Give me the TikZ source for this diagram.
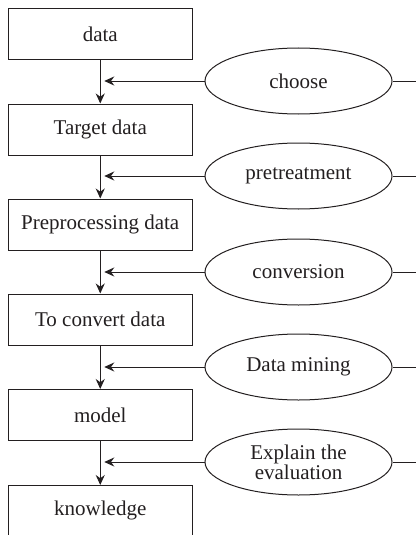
\documentclass[tikz,border=0pt]{standalone}
\usepackage{fontspec}
\setmainfont{Liberation Serif}
\usetikzlibrary{shapes.geometric,arrows.meta,calc}
\definecolor{ink}{HTML}{231F20}
\begin{document}
\begin{tikzpicture}[x=1pt,y=-1pt,
  stage/.style={draw=ink,text=ink,line width=1pt,minimum width=183.5pt,minimum height=51pt,inner sep=0pt,font=\fontsize{21}{23}\selectfont},
  task/.style={draw=ink,text=ink,ellipse,line width=1pt,minimum width=187pt,minimum height=66pt,inner sep=0pt,align=center,font=\fontsize{21}{23}\selectfont},
  link/.style={draw=ink,line width=1pt},
  flow/.style={link,-{Stealth[length=10pt,width=9pt]}}]
\useasboundingbox (0,0) rectangle (416,535);
\clip (0,0) rectangle (416,535);
% main chain of stages
\node[stage] (b1) at (100.25,34.5) {data};
\node[stage] (b2) at (100.25,129.5) {Target data};
\node[stage] (b3) at (100.25,224.5) {Preprocessing data};
\node[stage] (b4) at (100.25,319.5) {To convert data};
\node[stage] (b5) at (100.25,415) {model};
\node[stage,minimum height=60pt,anchor=north,text depth=15pt] (b6) at (100.25,485) {knowledge};
% operations feeding each step
\node[task] (e1) at (298.5,81) {choose};
\node[task] (e2) at (298.5,176) {pretreatment};
\node[task] (e3) at (298.5,272) {conversion};
\node[task] (e4) at (298.5,367) {Data mining};
\node[task] (e5) at (298.5,462) {Explain the\\[-3pt]evaluation};
\foreach \i/\j in {1/2,2/3,3/4,4/5,5/6}{
  \draw[flow] (b\i.south) -- (b\j.north);
  \coordinate (m\i) at ([xshift=4pt]b\i.south |- e\i.west);
  \coordinate (r\i) at (416,0 |- e\i.east);
  \draw[flow] (e\i.west) -- (m\i);
  \draw[link] (e\i.east) -- (r\i);
}
\end{tikzpicture}
\end{document}
